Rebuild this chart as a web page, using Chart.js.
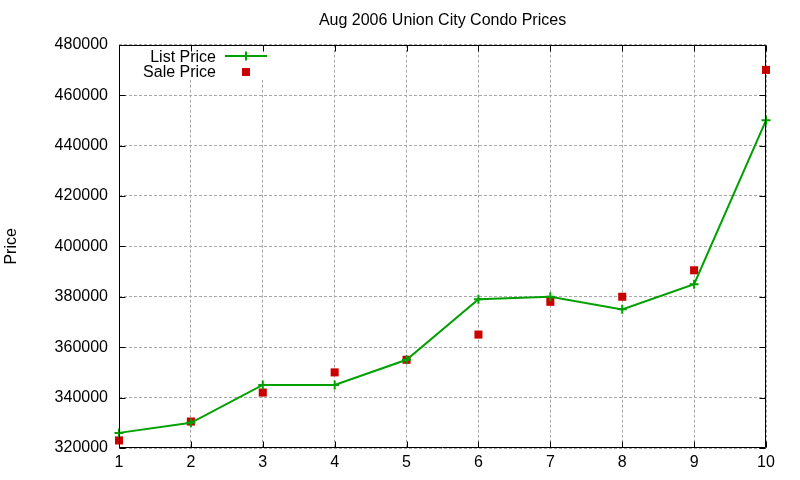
<!DOCTYPE html>
<html lang="en">
<head>
  <meta charset="UTF-8" />
  <title>Aug 2006 Union City Condo Prices</title>
  <script src="https://cdn.jsdelivr.net/npm/chart.js"></script>
  <style>
    html, body { margin: 0; padding: 0; background: #fff; }
    #wrap { width: 800px; height: 480px; }
  </style>
</head>
<body>
  <div id="wrap"><canvas id="priceChart" width="800" height="480"></canvas></div>

  <script>
    // Data
    const months = ["1", "2", "3", "4", "5", "6", "7", "8", "9", "10"];
    const listPrice = [326000, 330000, 345000, 345000, 355000, 379000, 380000, 375000, 385000, 450000];
    const salePrice = [323000, 330500, 342000, 350000, 355000, 365000, 378000, 380000, 390500, 470000];
    const yTicks = [320000, 340000, 360000, 380000, 400000, 420000, 440000, 460000, 480000];

    const FONT = "'Liberation Sans', Arial, sans-serif";
    const GREEN = "#00a000";
    const RED = "#cc0000";

    // gnuplot style frame, inward ticks and key
    const gnuplotFrame = {
      id: "gnuplotFrame",
      beforeDatasetsDraw(chart) {
        const ctx = chart.ctx;
        // key area hides the grid under it
        ctx.save();
        ctx.fillStyle = "#fff";
        ctx.fillRect(135, chart.chartArea.top + 1, 137, 34);
        ctx.restore();
      },
      afterDraw(chart) {
        const { ctx, chartArea: a, scales } = chart;
        ctx.save();
        ctx.strokeStyle = "#000";
        ctx.lineWidth = 1;
        ctx.beginPath();
        const L = Math.round(a.left) + 0.5, R = Math.round(a.right) - 0.5;
        const T = Math.round(a.top) + 0.5, B = Math.round(a.bottom) - 0.5;
        ctx.rect(L, T, R - L, B - T);
        const tl = 6;
        scales.x.ticks.forEach((t, i) => {
          const px = Math.round(scales.x.getPixelForTick(i)) + 0.5;
          ctx.moveTo(px, B); ctx.lineTo(px, B - tl);
          ctx.moveTo(px, T); ctx.lineTo(px, T + tl);
        });
        scales.y.ticks.forEach((t, i) => {
          const py = Math.round(scales.y.getPixelForTick(i)) + 0.5;
          ctx.moveTo(L, py); ctx.lineTo(L + tl, py);
          ctx.moveTo(R, py); ctx.lineTo(R - tl, py);
        });
        ctx.stroke();

        // key
        const ds = chart.data.datasets;
        ctx.font = "16px " + FONT;
        ctx.fillStyle = "#000";
        ctx.textAlign = "right";
        ctx.textBaseline = "middle";
        ctx.fillText(ds[0].label, 216, 57.5);
        ctx.fillText(ds[1].label, 216, 72.5);

        ctx.strokeStyle = ds[0].borderColor;
        ctx.lineWidth = 2;
        ctx.beginPath();
        ctx.moveTo(225, 56); ctx.lineTo(267, 56);
        ctx.moveTo(246, 51.5); ctx.lineTo(246, 60.5);
        ctx.stroke();

        ctx.fillStyle = ds[1].pointBackgroundColor;
        ctx.fillRect(242, 68, 8, 8);
        ctx.restore();
      }
    };

    new Chart(document.getElementById("priceChart"), {
      type: "line",
      data: {
        labels: months,
        datasets: [
          {
            label: "List Price",
            data: listPrice,
            borderColor: GREEN,
            backgroundColor: GREEN,
            borderWidth: 2,
            tension: 0,
            fill: false,
            pointStyle: "cross",
            pointRadius: 4.5,
            pointBorderWidth: 2,
            pointBorderColor: GREEN,
            pointHoverRadius: 4.5,
            clip: false
          },
          {
            label: "Sale Price",
            data: salePrice,
            showLine: false,
            borderColor: RED,
            pointStyle: "rect",
            pointRadius: 5.7,
            pointBorderWidth: 0,
            pointBackgroundColor: RED,
            pointHoverRadius: 5.7,
            clip: false
          }
        ]
      },
      options: {
        responsive: false,
        animation: false,
        devicePixelRatio: 1,
        layout: { padding: { left: 0, right: 34, top: 0, bottom: 0 } },
        plugins: {
          legend: { display: false },
          tooltip: { enabled: false },
          title: {
            display: true,
            fullSize: false,
            text: "Aug 2006 Union City Condo Prices",
            color: "#000",
            font: { family: FONT, size: 16, weight: "normal" },
            padding: { top: 11.4, bottom: 14.1 }
          }
        },
        scales: {
          x: {
            type: "category",
            offset: false,
            grid: { color: "#a8a8a8", lineWidth: 1, drawTicks: false },
            border: { display: false, dash: [3, 2] },
            ticks: {
              color: "#000",
              padding: 5,
              maxRotation: 0,
              autoSkip: false,
              font: { family: FONT, size: 16 }
            },
            afterFit(scale) { scale.height = 32; }
          },
          y: {
            min: yTicks[0],
            max: yTicks[yTicks.length - 1],
            afterBuildTicks(scale) { scale.ticks = yTicks.map(v => ({ value: v })); },
            grid: { color: "#a8a8a8", lineWidth: 1, drawTicks: false },
            border: { display: false, dash: [3, 2] },
            ticks: {
              color: "#000",
              padding: 11,
              font: { family: FONT, size: 16 },
              callback: v => String(v)
            },
            title: {
              display: true,
              text: "Price",
              color: "#000",
              font: { family: FONT, size: 16 },
              padding: { top: 2.4, bottom: 0 }
            },
            afterFit(scale) { scale.width = 119; }
          }
        }
      },
      plugins: [gnuplotFrame]
    });
  </script>
</body>
</html>
